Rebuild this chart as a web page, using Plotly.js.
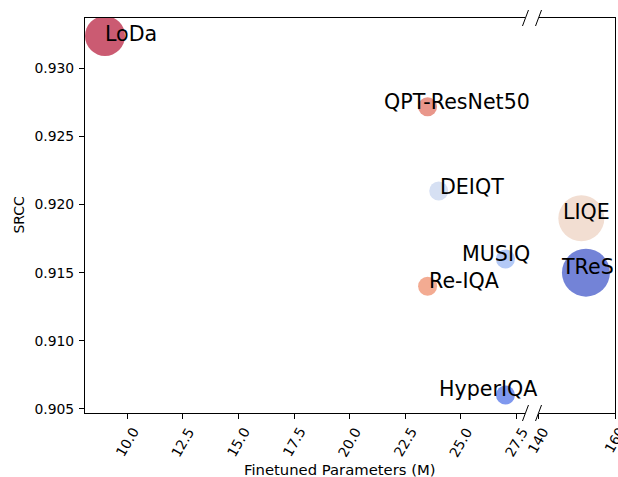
<!DOCTYPE html>
<html><head><meta charset="utf-8">
<script src="https://cdn.plot.ly/plotly-3.0.1.min.js"></script>
<style>html,body{margin:0;padding:0;background:#fff}</style>
</head><body><div id="chart" style="width:618px;height:477px"></div>
<script>
// ---- data ----
const models = ['LoDa', 'QPT-ResNet50', 'DEIQT', 'LIQE', 'MUSIQ', 'TReS', 'Re-IQA', 'HyperIQA'];
const params = [9, 23.5, 24, 151.2, 27, 152.4, 23.5, 27];
const srcc = [0.9324, 0.9272, 0.921, 0.919, 0.916, 0.915, 0.914, 0.906];
const leftTicks = [10, 12.5, 15, 17.5, 20, 22.5, 25, 27.5];
const leftTickText = ['10.0', '12.5', '15.0', '17.5', '20.0', '22.5', '25.0', '27.5'];
const rightTicks = [140, 160];
const rightTickText = ['140', '160'];
const yTicks = [0.905, 0.91, 0.915, 0.92, 0.925, 0.93];
const yTickText = ['0.905', '0.910', '0.915', '0.920', '0.925', '0.930'];
const xTitle = 'Finetuned Parameters (M)';
const yTitle = 'SRCC';

// ---- styles ----
const FONT = 'DejaVu Sans, Verdana, sans-serif';
const markerColor = {
  'LoDa': '#cb5b72', 'QPT-ResNet50': '#e9978b', 'DEIQT': '#d6e0f3', 'LIQE': '#f2ded2',
  'MUSIQ': '#b3c9f6', 'TReS': '#7383d7', 'Re-IQA': '#f3ab92', 'HyperIQA': '#7f98ee'
};
const markerSize = {
  'LoDa': 40, 'QPT-ResNet50': 19, 'DEIQT': 19, 'LIQE': 46,
  'MUSIQ': 19, 'TReS': 48, 'Re-IQA': 19, 'HyperIQA': 19
};
// [xshift, yshift] in px for the text labels
const labelShift = {
  'LoDa': [-2, 2], 'QPT-ResNet50': [-46, 5], 'DEIQT': [-1, 4], 'LIQE': [-20, 6],
  'MUSIQ': [-45, 5], 'TReS': [-27, 5.5], 'Re-IQA': [-1, 5], 'HyperIQA': [-68, 6]
};
const BREAK = 100;

const left = {x: [], y: [], c: [], s: []};
const right = {x: [], y: [], c: [], s: []};
const annotations = [];
models.forEach((m, i) => {
  const p = params[i] < BREAK ? left : right;
  p.x.push(params[i]); p.y.push(srcc[i]);
  p.c.push(markerColor[m]); p.s.push(markerSize[m]);
  annotations.push({
    x: params[i], y: srcc[i], xref: params[i] < BREAK ? 'x' : 'x2', yref: 'y',
    text: m, showarrow: false, xanchor: 'left', yanchor: 'middle',
    xshift: labelShift[m][0], yshift: labelShift[m][1],
    font: {family: FONT, size: 20.6, color: '#000'}
  });
});

const tickFont = {family: FONT, size: 13.9, color: '#000'};
leftTicks.forEach((v, i) => annotations.push({
  x: v, xref: 'x', y: 0, yref: 'paper', text: leftTickText[i], showarrow: false,
  xanchor: 'center', yanchor: 'top', yshift: -9, textangle: -60, font: tickFont
}));
rightTicks.forEach((v, i) => annotations.push({
  x: v, xref: 'x2', y: 0, yref: 'paper', text: rightTickText[i], showarrow: false,
  xanchor: 'center', yanchor: 'top', yshift: -9, textangle: -60, font: tickFont
}));
annotations.push({
  x: 0.4811, xref: 'paper', y: -0.1443, yref: 'paper', text: xTitle, showarrow: false,
  xanchor: 'center', yanchor: 'middle', font: {family: FONT, size: 14.8, color: '#000'}
});
annotations.push({
  x: -0.1264, xref: 'paper', y: 0.5, yref: 'paper', text: yTitle, showarrow: false,
  xanchor: 'center', yanchor: 'middle', textangle: -90, font: tickFont
});

const traces = [
  {x: left.x, y: left.y, xaxis: 'x', yaxis: 'y', mode: 'markers', type: 'scatter',
   marker: {color: left.c, size: left.s, opacity: 1, line: {width: 0}}, hoverinfo: 'skip'},
  {x: right.x, y: right.y, xaxis: 'x2', yaxis: 'y2', mode: 'markers', type: 'scatter',
   marker: {color: right.c, size: right.s, opacity: 1, line: {width: 0}}, hoverinfo: 'skip'}
];

function brk(xref, xa, ya) {
  return {type: 'line', xref: xref, yref: 'y domain', xsizemode: 'pixel', ysizemode: 'pixel',
          xanchor: xa, yanchor: ya, x0: -3, x1: 3, y0: -8, y1: 8,
          line: {color: '#000', width: 1}};
}
const shapes = [brk('x domain', 1, 1), brk('x domain', 1, 0), brk('x2 domain', 0, 1), brk('x2 domain', 0, 0)];

const axLine = {showline: true, linecolor: '#000', linewidth: 1, showgrid: false, zeroline: false};
const layout = {
  width: 618, height: 477,
  margin: {l: 85, r: 3, t: 18, b: 64, pad: 0},
  paper_bgcolor: '#fff', plot_bgcolor: '#fff',
  showlegend: false,
  font: {family: FONT, size: 13.9, color: '#000'},
  xaxis: Object.assign({}, axLine, {domain: [0, 0.8311], range: [8.1, 27.9], mirror: true,
    ticks: 'outside', ticklen: 5, tickwidth: 1, tickcolor: '#000',
    tickvals: leftTicks, showticklabels: false, anchor: 'y'}),
  xaxis2: Object.assign({}, axLine, {domain: [0.8557, 1], range: [140, 160], mirror: true,
    ticks: 'outside', ticklen: 5, tickwidth: 1, tickcolor: '#000',
    tickvals: rightTicks, showticklabels: false, anchor: 'y2'}),
  yaxis: Object.assign({}, axLine, {range: [0.90468, 0.93372], anchor: 'x',
    ticks: 'outside', ticklen: 5, tickwidth: 1, tickcolor: '#000',
    tickvals: yTicks, ticktext: yTickText, tickfont: tickFont, ticklabelstandoff: 2}),
  yaxis2: Object.assign({}, axLine, {range: [0.90468, 0.93372], anchor: 'x2', matches: 'y',
    side: 'right', ticks: '', showticklabels: false}),
  annotations: annotations,
  shapes: shapes
};
Plotly.newPlot('chart', traces, layout, {staticPlot: true, displayModeBar: false});
</script>
</body></html>
